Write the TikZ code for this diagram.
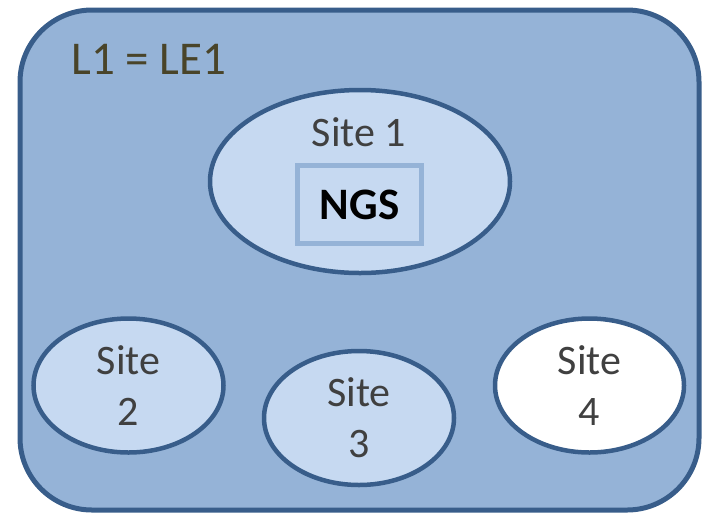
\documentclass[tikz,border=0pt]{standalone}
\usepackage{fontspec}
\setmainfont{Carlito}
\usetikzlibrary{shapes.geometric}
\usetikzlibrary{positioning}
\definecolor{outerfill}{RGB}{149,179,215}
\definecolor{siteedge}{RGB}{56,93,138}
\definecolor{sitefill}{RGB}{198,217,241}
\definecolor{sitetext}{RGB}{64,64,64}
\definecolor{leveltext}{RGB}{73,68,41}

\begin{document}
\begin{tikzpicture}[x=1pt,y=1pt]
\tikzstyle{level}=[rectangle,rounded corners=72pt,draw=siteedge,fill=outerfill,line width=5pt,inner sep=0pt]
\tikzstyle{site}=[ellipse,draw=siteedge,fill=sitefill,line width=4.5pt,inner sep=0pt,text=sitetext,align=center,font=\fontsize{42}{51}\selectfont]
\tikzstyle{server}=[rectangle,draw=outerfill,fill=sitefill,line width=5pt,inner sep=0pt,font=\fontsize{45}{50}\selectfont\bfseries]
\useasboundingbox (0,0) rectangle (703,-515);
\node [level,minimum width=679pt,minimum height=500pt] (L1) at(359.5,-260) {};
\node [text=leveltext,font=\fontsize{47}{56}\selectfont] (L1label) at(149,-59) {L1 = LE1};

\node [site,minimum width=300pt,minimum height=183pt] (site1) at(360,-181.5) {};
\node [text=sitetext,font=\fontsize{42}{51}\selectfont] (site1label) at(359,-132.5) {Site 1};
\node [server,minimum width=124pt,minimum height=78pt] (ngs) at(359.5,-204.5) {NGS};

\node [site,minimum width=190pt,minimum height=134pt] (site2) at(128.5,-385.5) {Site\\2};
\node [site,minimum width=190pt,minimum height=134pt] (site3) at(359,-418) {Site\\3};
\node [site,minimum width=189pt,minimum height=134pt,fill=white] (site4) at(589.5,-385.5) {Site\\4};
\end{tikzpicture}
\end{document}
